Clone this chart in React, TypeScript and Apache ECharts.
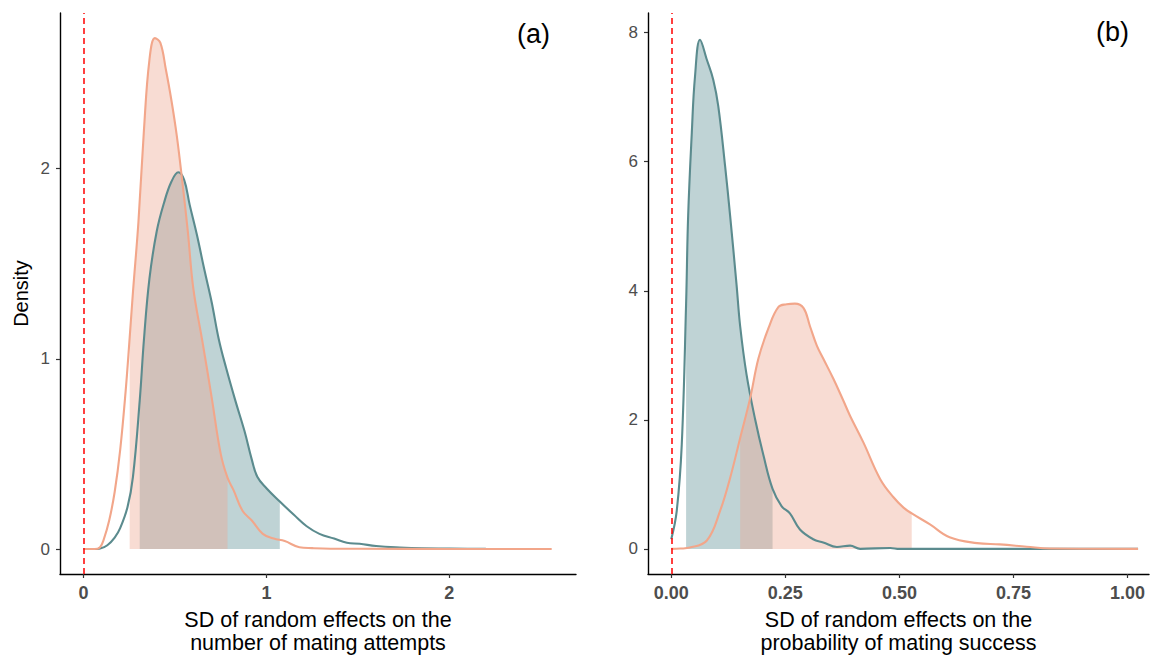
import React, { useEffect, useRef } from "react";
import * as echarts from "echarts";

// ---------- data: panel (a) ----------
const A_SALMON_X = [0, 0.06, 0.09, 0.11, 0.14, 0.17, 0.2, 0.23, 0.252, 0.27, 0.3, 0.33, 0.36, 0.39, 0.42, 0.45, 0.48, 0.51, 0.54, 0.57, 0.6, 0.65, 0.7, 0.75, 0.787, 0.82, 0.87, 0.92, 0.98, 1.04, 1.1, 1.18, 1.25, 1.35, 1.5, 2.0, 2.56];
const A_SALMON_Y = [0, 0, 0.01, 0.05, 0.15, 0.3, 0.52, 0.83, 1.11, 1.35, 1.72, 2.2, 2.57, 2.685, 2.66, 2.52, 2.36, 2.17, 1.93, 1.67, 1.37, 1.09, 0.8, 0.5, 0.375, 0.31, 0.2, 0.15, 0.08, 0.055, 0.042, 0.01, 0.005, 0.002, 0.002, 0, 0];
const A_TEAL_X = [0, 0.06, 0.09, 0.13, 0.17, 0.2, 0.24, 0.27, 0.307, 0.33, 0.36, 0.4, 0.44, 0.48, 0.518, 0.55, 0.58, 0.62, 0.66, 0.7, 0.74, 0.78, 0.83, 0.88, 0.92, 0.95, 1.0, 1.073, 1.15, 1.22, 1.29, 1.37, 1.44, 1.51, 1.6, 1.73, 1.85, 2.0, 2.2, 2.55];
const A_TEAL_Y = [0, 0, 0.003, 0.02, 0.06, 0.11, 0.22, 0.38, 0.78, 1.1, 1.42, 1.67, 1.82, 1.93, 1.98, 1.94, 1.81, 1.65, 1.47, 1.3, 1.1, 0.95, 0.78, 0.62, 0.47, 0.38, 0.32, 0.25, 0.18, 0.12, 0.08, 0.055, 0.033, 0.028, 0.016, 0.008, 0.004, 0.003, 0.001, 0];
const A_SALMON_CI = [0.252, 0.787];
const A_TEAL_CI = [0.307, 1.073];

// ---------- data: panel (b) ----------
const B_TEAL_X = [0, 0.012, 0.023, 0.0325, 0.037, 0.045, 0.052, 0.063, 0.078, 0.092, 0.103, 0.118, 0.129, 0.143, 0.151, 0.165, 0.184, 0.202, 0.222, 0.242, 0.26, 0.282, 0.311, 0.333, 0.363, 0.392, 0.414, 0.48, 0.5, 1.023];
const B_TEAL_Y = [0.15, 0.59, 1.62, 3.8, 5.16, 6.45, 7.32, 7.89, 7.58, 7.27, 6.86, 5.93, 5.16, 4.1, 3.45, 2.7, 2.0, 1.45, 0.93, 0.66, 0.55, 0.3, 0.15, 0.1, 0.03, 0.05, 0.0, 0.015, 0.0, 0.0];
const B_SALMON_X = [0, 0.02, 0.041, 0.078, 0.107, 0.129, 0.151, 0.173, 0.191, 0.213, 0.235, 0.253, 0.271, 0.29, 0.304, 0.319, 0.333, 0.355, 0.377, 0.392, 0.421, 0.458, 0.487, 0.509, 0.527, 0.567, 0.61, 0.67, 0.72, 0.779, 0.83, 1.023];
const B_SALMON_Y = [0, 0.005, 0.02, 0.13, 0.59, 1.1, 1.72, 2.34, 2.95, 3.42, 3.75, 3.79, 3.8, 3.73, 3.45, 3.15, 2.95, 2.64, 2.3, 2.06, 1.65, 1.08, 0.8, 0.64, 0.55, 0.38, 0.18, 0.09, 0.07, 0.034, 0.005, 0];
const B_TEAL_CI = [0.0325, 0.222];
const B_SALMON_CI = [0.151, 0.527];

// ---------- ticks ----------
const A_X_TICKS = [0, 1, 2];
const A_Y_TICKS = [0, 1, 2];
const B_X_TICKS = [0, 0.25, 0.5, 0.75, 1];
const B_Y_TICKS = [0, 2, 4, 6, 8];

const A_X_TITLE = "SD of random effects on the\nnumber of mating attempts";
const B_X_TITLE = "SD of random effects on the\nprobability of mating success";
const Y_TITLE = "Density";

const SALMON_LINE = "#F2A68A";
const TEAL_LINE = "#5B8B8E";
const SALMON_FILL = "#EDA890";
const TEAL_FILL = "#5F9196";
const FONT = "'Liberation Sans', Arial, Helvetica, sans-serif";

const pairs = (xs: number[], ys: number[]) => xs.map((x, i) => [x, ys[i]]);
const inCI = (xs: number[], ys: number[], ci: number[]) =>
  pairs(xs, ys).filter((p) => p[0] >= ci[0] - 1e-9 && p[0] <= ci[1] + 1e-9);

const SMOOTH = 0.4;

function axisX(idx: number, min: number, max: number, ticks: number[], title: string, fmt: (v: number) => string) {
  return {
    type: "value",
    gridIndex: idx,
    min,
    max,
    splitLine: { show: false },
    axisLine: { show: true, onZero: false, lineStyle: { color: "#000", width: 1.4 } },
    axisTick: { show: true, length: 4, customValues: ticks, lineStyle: { color: "#333", width: 1.2 } },
    axisLabel: {
      customValues: ticks,
      formatter: (v: number) => fmt(v),
      color: "#4D4D4D",
      fontSize: 18,
      fontWeight: "bold",
      fontFamily: FONT,
      margin: 10,
    },
    name: title,
    nameLocation: "middle",
    nameGap: 34,
    nameTextStyle: { fontSize: 21.5, lineHeight: 23, color: "#000", fontFamily: FONT },
  };
}

function axisY(idx: number, min: number, max: number, ticks: number[], title: string) {
  return {
    type: "value",
    gridIndex: idx,
    min,
    max,
    splitLine: { show: false },
    axisLine: { show: true, onZero: false, lineStyle: { color: "#000", width: 1.4 } },
    axisTick: { show: true, length: 4, customValues: ticks, lineStyle: { color: "#333", width: 1.2 } },
    axisLabel: {
      customValues: ticks,
      formatter: (v: number) => String(v),
      color: "#4D4D4D",
      fontSize: 17,
      fontFamily: FONT,
      margin: 10,
    },
    name: title,
    nameLocation: "middle",
    nameGap: 29,
    nameTextStyle: { fontSize: 20, color: "#000", fontFamily: FONT },
  };
}

function areaSeries(idx: number, data: number[][], color: string) {
  return {
    type: "line",
    xAxisIndex: idx,
    yAxisIndex: idx,
    data,
    smooth: SMOOTH,
    showSymbol: false,
    symbol: "none",
    silent: true,
    lineStyle: { width: 0, opacity: 0 },
    areaStyle: { color, opacity: 0.4 },
  };
}

function lineSeries(idx: number, data: number[][], color: string, withRef: boolean) {
  const s: any = {
    type: "line",
    xAxisIndex: idx,
    yAxisIndex: idx,
    data,
    smooth: SMOOTH,
    showSymbol: false,
    symbol: "none",
    silent: true,
    lineStyle: { width: 2.1, color },
  };
  if (withRef) {
    s.markLine = {
      silent: true,
      symbol: "none",
      label: { show: false },
      lineStyle: { color: "#FF0000", type: [6, 4], width: 1.5 },
      data: [{ xAxis: 0 }],
    };
  }
  return s;
}

export default function App() {
  const ref = useRef<HTMLDivElement>(null);
  useEffect(() => {
    if (!ref.current) return;
    const chart = echarts.init(ref.current, undefined, { renderer: "svg" });
    chart.setOption({
      animation: false,
      backgroundColor: "#fff",
      textStyle: { fontFamily: FONT },
      grid: [
        { left: 60, top: 13, width: 516, height: 564 },
        { left: 648, top: 13, width: 501, height: 564 },
      ],
      xAxis: [
        axisX(0, -0.129, 2.693, A_X_TICKS, A_X_TITLE, (v) => String(v)),
        axisX(1, -0.051, 1.047, B_X_TICKS, B_X_TITLE, (v) => v.toFixed(2)),
      ],
      yAxis: [
        axisY(0, -0.131, 2.817, A_Y_TICKS, Y_TITLE),
        axisY(1, -0.389, 8.304, B_Y_TICKS, ""),
      ],
      series: [
        areaSeries(0, inCI(A_TEAL_X, A_TEAL_Y, A_TEAL_CI), TEAL_FILL),
        areaSeries(0, inCI(A_SALMON_X, A_SALMON_Y, A_SALMON_CI), SALMON_FILL),
        lineSeries(0, pairs(A_TEAL_X, A_TEAL_Y), TEAL_LINE, true),
        lineSeries(0, pairs(A_SALMON_X, A_SALMON_Y), SALMON_LINE, false),
        areaSeries(1, inCI(B_TEAL_X, B_TEAL_Y, B_TEAL_CI), TEAL_FILL),
        areaSeries(1, inCI(B_SALMON_X, B_SALMON_Y, B_SALMON_CI), SALMON_FILL),
        lineSeries(1, pairs(B_TEAL_X, B_TEAL_Y), TEAL_LINE, true),
        lineSeries(1, pairs(B_SALMON_X, B_SALMON_Y), SALMON_LINE, false),
      ],
      graphic: [
        {
          type: "text",
          left: 517,
          top: 20,
          style: { text: "(a)", fontSize: 27, fill: "#000", fontFamily: FONT },
        },
        {
          type: "text",
          left: 1096,
          top: 18,
          style: { text: "(b)", fontSize: 27, fill: "#000", fontFamily: FONT },
        },
      ],
    });
    return () => chart.dispose();
  }, []);
  return (
    <div
      ref={ref}
      style={{ position: "fixed", left: 0, top: 0, width: 1157, height: 659, background: "#fff" }}
    />
  );
}
